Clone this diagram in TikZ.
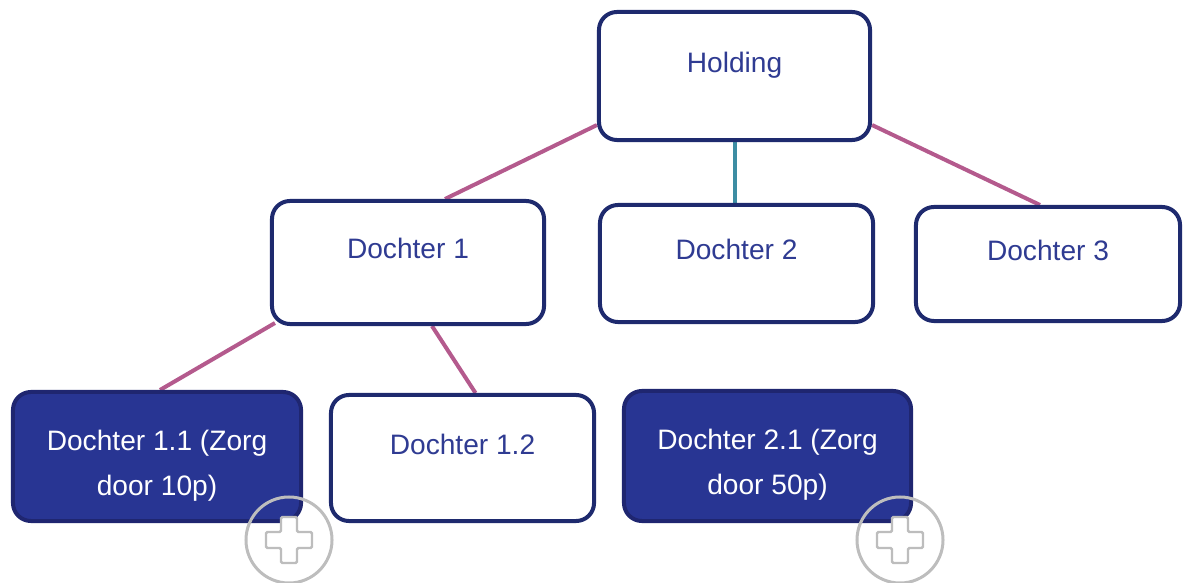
\documentclass[tikz,border=0pt]{standalone}
\usepackage{fontspec}
\setmainfont{Liberation Sans}
\usepackage{xcolor}
\usepackage{tikz}
\usetikzlibrary{calc}
\definecolor{navyline}{HTML}{1E2A6E}
\definecolor{boxtext}{HTML}{2F3B92}
\definecolor{fillblue}{HTML}{283593}
\definecolor{fillborder}{HTML}{1F2670}
\definecolor{pinkline}{HTML}{B45A8D}
\definecolor{tealline}{HTML}{3D8DA3}
\definecolor{plusgrey}{HTML}{BDBDBD}
\pgfdeclarelayer{links}
\pgfsetlayers{links,main}

\begin{document}
\begin{tikzpicture}[x=0.025cm, y=-0.025cm,
    whitebox/.style={draw=navyline, line width=0.1cm, fill=white, rounded corners=0.45cm,
      text=boxtext, font=\fontsize{20}{32}\selectfont, text height=15pt, text depth=20pt},
    bluebox/.style={draw=fillborder, line width=0.1cm, fill=fillblue, rounded corners=0.45cm,
      text=white, font=\fontsize{20}{32}\selectfont, align=center, text height=59pt},
    pinklink/.style={pinkline, line width=0.1cm},
    teallink/.style={tealline, line width=0.1cm},
    plusbtn/.style={circle, draw=plusgrey, line width=0.075cm, minimum size=2.15cm, inner sep=0pt},
    pluscross/.style={draw=plusgrey, fill=white, line width=0.06cm, rounded corners=1pt}]
  \useasboundingbox (0,0) rectangle (1184,583);

  \node[whitebox, minimum width=6.775cm, minimum height=3.2cm] (hold) at (734.5,76) {Holding};
  \node[whitebox, minimum width=6.8cm, minimum height=3.075cm] (d1) at (408,262.5) {Dochter 1};
  \node[whitebox, minimum width=6.825cm, minimum height=2.925cm] (d2) at (736.5,263.5) {Dochter 2};
  \node[whitebox, minimum width=6.6cm, minimum height=2.85cm] (d3) at (1048,264) {Dochter 3};
  \node[bluebox, minimum width=7.2cm, minimum height=3.225cm] (d11) at (157,456.5) {Dochter 1.1 (Zorg\\door 10p)};
  \node[whitebox, minimum width=6.575cm, minimum height=3.15cm] (d12) at (462.5,458) {Dochter 1.2};
  \node[bluebox, minimum width=7.175cm, minimum height=3.25cm] (d21) at (767.5,456) {Dochter 2.1 (Zorg\\door 50p)};

  % links behind the boxes
  \begin{pgfonlayer}{links}
    \draw[pinklink] ($(hold.south west)+(0,-17)$) -- ($(d1.north)+(37,0)$);
    \draw[pinklink] ($(hold.south east)+(0,-17)$) -- ($(d3.north)+(-8,0)$);
    \draw[teallink] (hold.south) -- (hold.south |- d2.north);
    \draw[pinklink] ($(d1.south west)+(5,-3)$) -- ($(d11.north)+(3,0)$);
    \draw[pinklink] ($(d1.south)+(24,0)$) -- ($(d12.north)+(13,0)$);
    \draw[teallink] ($(d2.south)+(6,0)$) -- ($(d2.south)+(6,0)$ |- d21.north);
  \end{pgfonlayer}

  \node[plusbtn] (p11) at (289,540) {};
  \node[plusbtn] (p21) at (900,540) {};
  \foreach \p in {p11,p21}
    \draw[pluscross, shift={(\p.center)}] (-8,-23) -- (8,-23) -- (8,-8) -- (23,-8) -- (23,8)
      -- (8,8) -- (8,23) -- (-8,23) -- (-8,8) -- (-23,8) -- (-23,-8) -- (-8,-8) -- cycle;
\end{tikzpicture}
\end{document}
